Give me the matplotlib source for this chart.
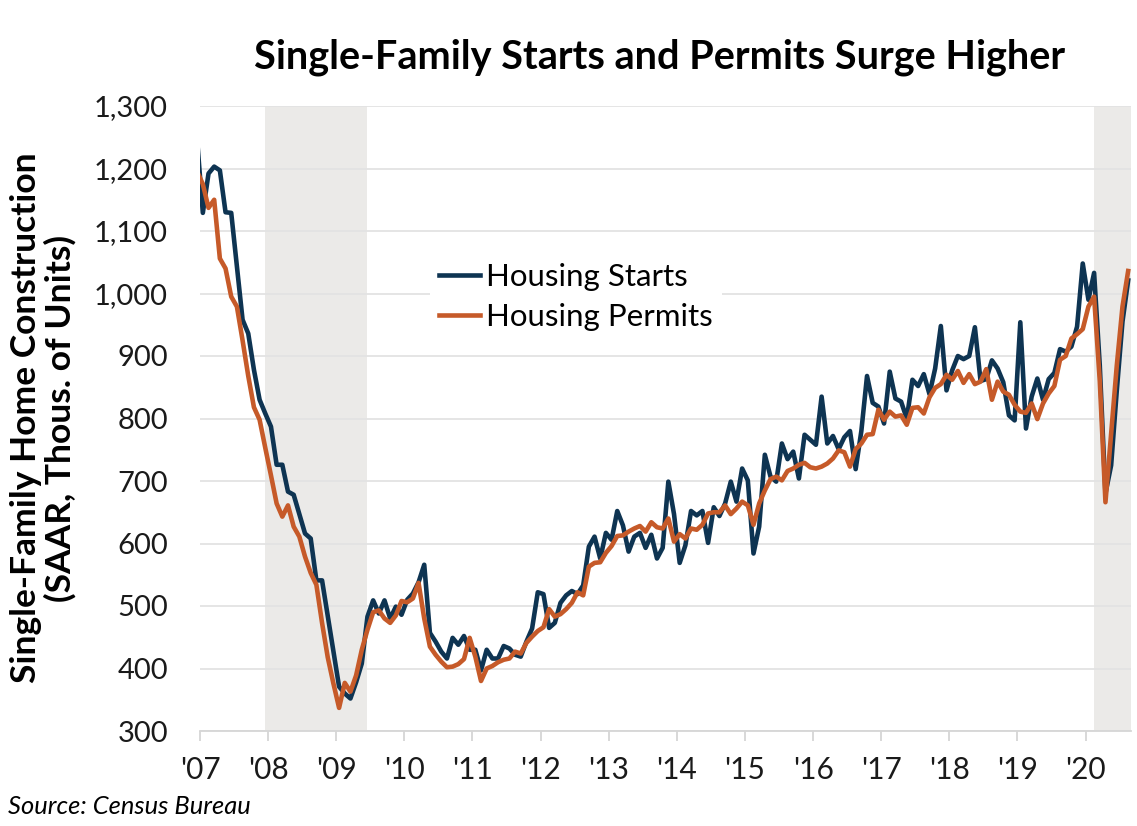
import numpy as np
import matplotlib
matplotlib.use("Agg")
import matplotlib.pyplot as plt

# Single-family housing starts and permits, SAAR, thousands of units
# monthly values, Dec 2006 .. Aug 2020 (Dec 2006 only used so the line enters from the edge)
first_year = 2006
first_month = 12

starts = [
    1245,
    1129, 1192, 1203, 1197, 1130, 1129, 1043, 958, 936, 878, 830, 808,      # 2007
    787, 726, 726, 683, 678, 647, 616, 608, 541, 541, 484, 427,             # 2008
    371, 360, 352, 378, 408, 483, 509, 488, 509, 480, 499, 486,             # 2009
    510, 520, 538, 566, 457, 443, 427, 416, 449, 438, 452, 430,             # 2010
    430, 397, 430, 416, 416, 436, 432, 422, 419, 443, 464, 522,             # 2011
    519, 465, 473, 505, 517, 524, 519, 533, 595, 611, 576, 617,             # 2012
    606, 652, 629, 587, 611, 617, 593, 614, 576, 593, 699, 647,             # 2013
    569, 597, 652, 645, 652, 601, 658, 644, 664, 699, 667, 720,             # 2014
    701, 584, 627, 742, 707, 699, 760, 735, 747, 704, 774, 766,             # 2015
    758, 835, 760, 772, 751, 770, 780, 719, 780, 868, 825, 819,             # 2016
    792, 875, 832, 827, 800, 862, 852, 871, 839, 880, 948, 845,             # 2017
    877, 900, 895, 900, 946, 860, 863, 893, 880, 858, 805, 797,             # 2018
    954, 784, 835, 864, 830, 863, 873, 911, 907, 915, 947, 1048,            # 2019
    990, 1033, 885, 680, 725, 845, 955, 1021,                               # 2020
]

permits = [
    1195,
    1175, 1137, 1150, 1056, 1040, 995, 979, 925, 868, 818, 798, 753,       # 2007
    709, 664, 643, 661, 627, 611, 579, 553, 534, 473, 418, 376,             # 2008
    337, 377, 363, 389, 430, 462, 490, 493, 480, 473, 485, 508,             # 2009
    506, 512, 537, 480, 435, 422, 411, 402, 403, 407, 415, 449,             # 2010
    419, 380, 400, 404, 410, 414, 416, 427, 424, 441, 451, 460,             # 2011
    466, 495, 483, 487, 495, 505, 522, 517, 563, 569, 570, 585,             # 2012
    596, 612, 613, 619, 624, 628, 619, 634, 626, 624, 640, 603,             # 2013
    615, 608, 624, 622, 630, 648, 650, 650, 661, 647, 656, 667,             # 2014
    661, 630, 664, 685, 703, 707, 701, 716, 720, 726, 729, 722,             # 2015
    720, 723, 728, 736, 749, 746, 723, 751, 760, 774, 775, 814,             # 2016
    798, 811, 803, 805, 790, 817, 818, 808, 834, 849, 855, 870,             # 2017
    862, 876, 857, 871, 855, 859, 879, 830, 859, 843, 838, 822,             # 2018
    811, 809, 824, 799, 824, 840, 852, 894, 900, 928, 935, 943,             # 2019
    979, 995, 860, 666, 775, 885, 979, 1036,                                # 2020
]

years = list(range(2007, 2021))
year_labels = ["'%02d" % (y % 100) for y in years]
y_ticks = list(range(300, 1301, 100))

# recessions (Dec 2007 - Jun 2009, Feb 2020 - )
recessions = [((2007, 12), (2009, 6)), ((2020, 2), None)]

NAVY = "#0e3452"
ORANGE = "#c65a29"
SHADE = "#ebeae8"
GRID = "#e3e3e3"

plt.rcParams['font.family'] = ['Lato', 'DejaVu Sans']


# month (year, m) -> decimal year at the middle of the month
def mid_month(year, month):
    return year + (month - 0.5) / 12


idx = np.arange(len(starts))
x = np.array([mid_month(first_year + (first_month - 1 + i) // 12, (first_month - 1 + i) % 12 + 1) for i in idx])
x_end = 2020 + 8 / 12

fig = plt.figure(figsize=(11.37, 8.26), dpi=100)
ax = fig.add_axes([200 / 1137, 1 - 731 / 826, 931 / 1137, 625 / 826])

for start, end in recessions:
    x0 = mid_month(*start)
    x1 = mid_month(*end) if end else x_end
    ax.axvspan(x0, x1, color=SHADE, lw=0, zorder=0)

ax.plot(x, starts, color=NAVY, lw=3.3, label="Housing Starts", zorder=3)
ax.plot(x, permits, color=ORANGE, lw=3.3, label="Housing Permits", zorder=4)

ax.set_xlim(2007, x_end)
ax.set_ylim(300, 1300)

ax.set_yticks(y_ticks)
ax.set_yticklabels(["{:,}".format(v) for v in y_ticks])
ax.set_xticks(years)
ax.set_xticklabels(year_labels)

ax.grid(axis='y', color=GRID, lw=1.3, zorder=1)
ax.set_axisbelow(True)
for side in ['left', 'right', 'top']:
    ax.spines[side].set_visible(False)
ax.spines['bottom'].set_color("#d6d6d6")
ax.spines['bottom'].set_linewidth(1.3)
ax.spines['bottom'].set_zorder(2)

ax.tick_params(axis='y', length=0, pad=23, labelsize=21, labelcolor="#1a1a1a")
ax.tick_params(axis='x', length=7, width=1.3, color="#d6d6d6", pad=11,
               labelsize=21.5, labelcolor="#1a1a1a")

leg = ax.legend(loc='upper left', bbox_to_anchor=(430 / 1137, 1 - 254 / 826),
                bbox_transform=fig.transFigure, fontsize=22.5, frameon=True,
                handlelength=1.3, handletextpad=0.2, labelspacing=0.36,
                borderaxespad=0, borderpad=0.3)
leg.get_frame().set_facecolor('white')
leg.get_frame().set_edgecolor('none')
leg.get_frame().set_alpha(1)
leg.get_frame().set_boxstyle('square', pad=0)
leg.set_zorder(5)

fig.text(660 / 1137, 1 - 57 / 826, "Single-Family Starts and Permits Surge Higher",
         ha='center', va='center', fontsize=28.5, fontweight='bold', color='black')

# two-line y axis title, one text per line so the spacing can be tight
fig.text(26 / 1137, 1 - 418 / 826, "Single-Family Home Construction",
         ha='center', va='center', rotation=90, fontsize=25.5, fontweight='bold', color='black')
fig.text(60 / 1137, 1 - 418 / 826, "(SAAR, Thous. of Units)",
         ha='center', va='center', rotation=90, fontsize=25.5, fontweight='bold', color='black')

fig.text(8 / 1137, 1 - 807 / 826, "Source: Census Bureau", ha='left', va='center',
         fontsize=18.4, fontstyle='italic', color='black')

fig.savefig("out.png", dpi=100)
